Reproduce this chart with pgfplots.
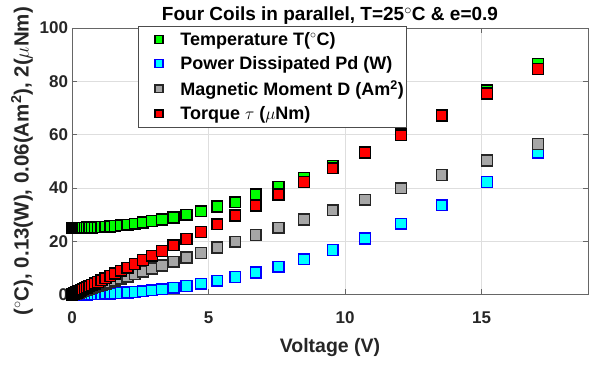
\documentclass[border=0pt]{standalone}
\usepackage{fontspec}
\setmainfont{Liberation Sans}
\usepackage{pgfplots}
\pgfplotsset{compat=1.18}
\usepackage{pgfplotstable}
\definecolor{mgreen}{rgb}{0,1,0}
\definecolor{mcyan}{rgb}{0,1,1}
\definecolor{mblue}{rgb}{0,0,1}
\definecolor{mgray}{rgb}{0.65,0.65,0.65}
\definecolor{mred}{rgb}{1,0,0}
\newcommand{\dg}{$^{\circ}$}
\pgfplotstableread{
V T P D Tq
0.00 25.00 0.000 0.00 0.00
0.02 25.00 0.000 0.07 0.10
0.05 25.00 0.000 0.17 0.25
0.07 25.00 0.001 0.23 0.35
0.10 25.00 0.002 0.33 0.50
0.13 25.00 0.003 0.43 0.64
0.16 25.01 0.005 0.53 0.79
0.20 25.01 0.007 0.66 0.99
0.24 25.02 0.011 0.79 1.19
0.29 25.02 0.015 0.96 1.44
0.34 25.03 0.021 1.13 1.69
0.40 25.05 0.029 1.32 1.98
0.47 25.06 0.040 1.56 2.33
0.54 25.09 0.053 1.79 2.68
0.63 25.12 0.072 2.09 3.12
0.72 25.15 0.095 2.38 3.57
0.83 25.20 0.126 2.75 4.12
0.95 25.26 0.165 3.14 4.71
1.08 25.34 0.213 3.57 5.36
1.23 25.44 0.276 4.07 6.10
1.40 25.57 0.358 4.63 6.94
1.58 25.73 0.456 5.23 7.84
1.80 25.95 0.592 5.96 8.93
2.03 26.20 0.752 6.72 10.07
2.30 26.55 0.966 7.61 11.41
2.60 27.05 1.234 8.61 12.90
2.93 27.55 1.568 9.70 14.53
3.30 28.10 1.989 10.92 16.37
3.72 28.90 2.527 12.31 18.45
4.19 29.95 3.206 13.87 20.78
4.72 31.20 4.068 15.62 23.41
5.32 33.00 5.168 17.61 26.39
5.98 34.60 6.530 19.79 29.66
6.73 37.60 8.271 22.28 33.38
7.56 40.30 10.436 25.02 37.50
8.50 43.80 13.193 28.14 42.16
9.55 48.20 16.654 31.61 47.37
10.73 53.30 21.024 35.52 53.22
12.05 60.00 26.514 39.89 59.77
13.54 67.40 33.476 44.82 67.16
15.20 76.50 42.188 50.31 75.39
17.07 86.60 53.208 56.50 84.67
}\data
\begin{document}
\begin{tikzpicture}
\useasboundingbox (-72pt,-71.5pt) rectangle (517pt,294.5pt);
\begin{axis}[
  at={(0pt,0pt)}, anchor=south west,
  scale only axis, width=516pt, height=266.5pt,
  xmin=0, xmax=18.9, ymin=0, ymax=100,
  xtick={0,5,10,15}, ytick={0,20,40,60,80,100},
  grid=major, major grid style={draw=black!13, line width=0.5pt},
  axis line style={draw=black!60, line width=0.6pt},
  tick style={draw=black!60, line width=0.6pt},
  major tick length=5pt,
  tick align=inside,
  clip=false,
  /pgf/number format/assume math mode=true,
  ticklabel style={font=\fontsize{17}{20}\selectfont\bfseries, text=black!85},
  xticklabel style={yshift=-14pt},
  yticklabel style={xshift=-0.5pt},
  xlabel={Voltage (V)},
  every axis x label/.style={at={(axis description cs:0.5,-0.2195)}, anchor=base, font=\fontsize{19.5}{22}\selectfont\bfseries, text=black!85},
  ylabel={(\dg C), 0.13(W), 0.06(Am\textsuperscript{2}), 2($\mu$Nm)},
  every axis y label/.style={at={(axis description cs:-0.0969,0.5)}, rotate=90, anchor=center, font=\fontsize{20.5}{23}\selectfont\bfseries, text=black!85},
  title={Four Coils in parallel, T=25\dg C \& e=0.9},
  every axis title/.style={at={(axis description cs:0.5,1.0280)}, anchor=base, font=\fontsize{19}{22}\selectfont\bfseries},
  legend cell align=left,
  legend image code/.code={\path (-20pt,0pt) (19pt,0pt); \draw[#1, mark size=3.8pt] plot coordinates {(0pt,0pt)};},
  legend style={at={(axis description cs:0.1285,1.008)}, anchor=north west, font=\fontsize{18}{21}\selectfont\bfseries, draw=black!70, line width=0.7pt, fill=white, row sep=5.5pt, inner xsep=0pt, inner ysep=4pt},
]
\addplot[only marks, mark=square*, mark size=5.4pt, mark options={fill=mgreen, draw=black, line width=1.5pt}] table[x=V,y=T]{\data};
\addlegendentry{Temperature T(\dg C)}
\addplot[only marks, mark=square*, mark size=5.4pt, mark options={fill=mcyan, draw=mblue, line width=1.5pt}] table[x=V,y=P]{\data};
\addlegendentry{Power Dissipated Pd (W)}
\addplot[only marks, mark=square*, mark size=5.4pt, mark options={fill=mgray, draw=black!85, line width=1.5pt}] table[x=V,y=D]{\data};
\addlegendentry{Magnetic Moment D (Am\textsuperscript{2})}
\addplot[only marks, mark=square*, mark size=5.4pt, mark options={fill=mred, draw=black, line width=1.5pt}] table[x=V,y=Tq]{\data};
\addlegendentry{Torque $\tau$ ($\mu$Nm)}
\end{axis}
\end{tikzpicture}
\end{document}
